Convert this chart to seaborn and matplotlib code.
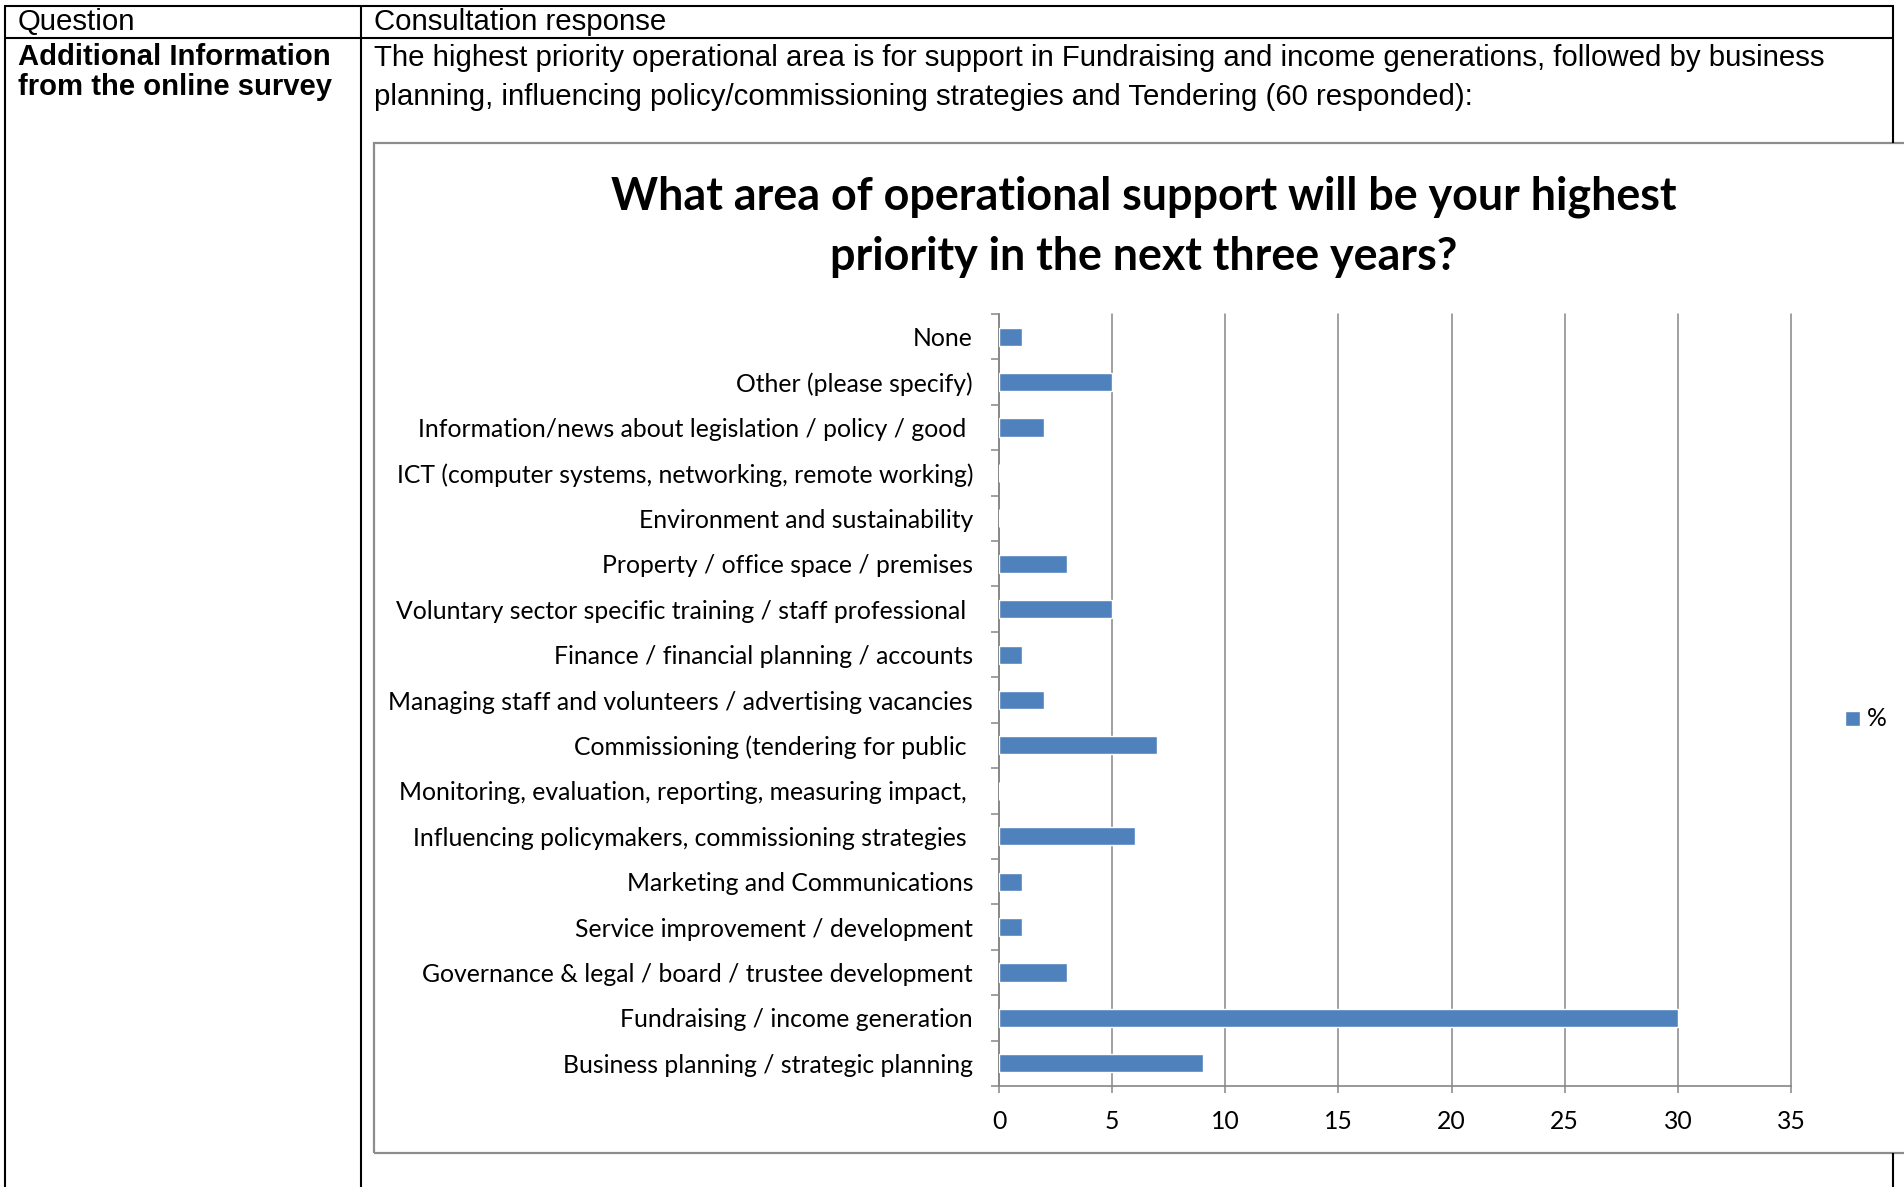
import numpy as np
import pandas as pd
import matplotlib
matplotlib.use("Agg")
import matplotlib.pyplot as plt
import seaborn as sns
from matplotlib.lines import Line2D
from matplotlib.patches import Rectangle

# ---------------- data ----------------
categories = [
    "None",
    "Other (please specify)",
    "Information/news about legislation / policy / good ",
    "ICT (computer systems, networking, remote working)",
    "Environment and sustainability",
    "Property / office space / premises",
    "Voluntary sector specific training / staff professional ",
    "Finance / financial planning / accounts",
    "Managing staff and volunteers / advertising vacancies",
    "Commissioning (tendering for public ",
    "Monitoring, evaluation, reporting, measuring impact, ",
    "Influencing policymakers, commissioning strategies ",
    "Marketing and Communications",
    "Service improvement / development",
    "Governance & legal / board / trustee development",
    "Fundraising / income generation",
    "Business planning / strategic planning",
]
values = [1, 5, 2, 0, 0, 3, 5, 1, 2, 7, 0, 6, 1, 1, 3, 30, 9]
x_ticks = [0, 5, 10, 15, 20, 25, 30, 35]
series_label = "%"
title_lines = ["What area of operational support will be your highest",
               "priority in the next three years?"]
header_left = "Question"
header_right = "Consultation response"
left_lines = ["Additional Information", "from the online survey"]
body_lines = ["The highest priority operational area is for support in Fundraising and income generations, followed by business",
              "planning, influencing policy/commissioning strategies and Tendering (60 responded):"]

# ---------------- layout ----------------
W, H = 1904, 1187
BAR = "#4F81BD"
GRID = "#868686"

sns.set_style("white")
plt.rcParams["font.family"] = ["Lato", "DejaVu Sans"]
plt.rcParams["text.color"] = "black"

fig = plt.figure(figsize=(W / 100, H / 100), dpi=100)
fig.patch.set_facecolor("white")


def fx(x):
    return x / W


def fy(y):
    return 1 - y / H


def line(x0, y0, x1, y1, color="black", lw=1.5):
    fig.add_artist(Line2D([fx(x0), fx(x1)], [fy(y0), fy(y1)],
                          transform=fig.transFigure, color=color, lw=lw,
                          solid_capstyle="butt"))


# table grid
line(4, 6, 1894, 6)
line(4, 38, 1894, 38)
line(5, 6, 5, H + 5)
line(361, 6, 361, H + 5)
line(1893, 6, 1893, 143)
line(1893, 1153, 1893, H + 5)

# chart frame
fig.add_artist(Rectangle((fx(374), fy(1153)), (W + 20 - 374) / W, (1153 - 143) / H,
                         transform=fig.transFigure, fill=False,
                         edgecolor="#8c8c8c", lw=1.6))

arial = ["Liberation Sans", "DejaVu Sans"]
kw = dict(family=arial, fontsize=20, va="center", ha="left", color="black")
t_q = fig.text(fx(18), fy(22), header_left, **kw)
t_c = fig.text(fx(374), fy(22), header_right, **kw)
t_l1 = fig.text(fx(18), fy(57), left_lines[0], weight="bold", **kw)
t_l2 = fig.text(fx(18), fy(87), left_lines[1], weight="bold", **kw)
t_b1 = fig.text(fx(374), fy(58), body_lines[0], **kw)
t_b2 = fig.text(fx(374), fy(97), body_lines[1], **kw)

t_t1 = fig.text(fx(1144), fy(197), title_lines[0], fontsize=26, weight="bold",
                va="center", ha="center", color="black")
t_t2 = fig.text(fx(1144), fy(257), title_lines[1], fontsize=26, weight="bold",
                va="center", ha="center", color="black")

# chart axes
ax = fig.add_axes([fx(999), fy(1086), (1791 - 999) / W, (1086 - 314) / H])
df = pd.DataFrame({"category": categories, "value": values})
sns.barplot(data=df, x="value", y="category", orient="h", color=BAR,
            saturation=1, width=0.4, label=series_label, ax=ax, zorder=3)
ax.set_xlim(0, 35)
ax.set_xticks(x_ticks)
ax.set_xticklabels([str(v) for v in x_ticks])
ax.set_xlabel("")
ax.set_ylabel("")
ax.set_ylim(len(categories) - 0.5, -0.5)
ax.set_yticks(np.arange(-0.5, len(categories), 1.0), minor=True)
ax.xaxis.grid(True, color=GRID, lw=1.1)
ax.yaxis.grid(False)
ax.set_axisbelow(True)
for s in ["top", "right"]:
    ax.spines[s].set_visible(False)
for s in ["left", "bottom"]:
    ax.spines[s].set_color(GRID)
    ax.spines[s].set_linewidth(1.2)
for gl in ax.get_xgridlines():
    gl.set_clip_on(False)

tick_fs = 15
ax.tick_params(axis="y", which="major", length=0, pad=18.7, labelsize=tick_fs, labelcolor="black")
ax.tick_params(axis="y", which="minor", length=5.8, width=1.1, color=GRID, direction="out", left=True)
ax.tick_params(axis="x", which="major", length=5, width=1.1, color=GRID, direction="out",
               bottom=True, pad=12, labelsize=tick_fs, labelcolor="black")

leg = ax.legend(loc="center left", bbox_to_anchor=(fx(1845), fy(718)),
                bbox_transform=fig.transFigure, frameon=False,
                handlelength=0.72, handleheight=0.72, handletextpad=0.35,
                borderpad=0, borderaxespad=0, fontsize=tick_fs, labelcolor="black")

# ---------- fit text sizes to the reference widths ----------
fig.canvas.draw()
r = fig.canvas.get_renderer()


def scale_for(t, target):
    return target / t.get_window_extent(r).width


s_hdr = scale_for(t_c, 291)
for t in (t_q, t_c):
    t.set_fontsize(20 * s_hdr)
s_left = scale_for(t_l1, 312)
for t in (t_l1, t_l2):
    t.set_fontsize(20 * s_left)
s_body = scale_for(t_b1, 1448)
for t in (t_b1, t_b2):
    t.set_fontsize(20 * s_body)
s_title = scale_for(t_t1, 1067)
for t in (t_t1, t_t2):
    t.set_fontsize(26 * s_title)
s_tick = scale_for(ax.get_yticklabels()[3], 577)
new_fs = tick_fs * s_tick
for t in ax.get_yticklabels() + ax.get_xticklabels() + leg.get_texts():
    t.set_fontsize(new_fs)

fig.savefig("out.png", dpi=100, facecolor="white")
